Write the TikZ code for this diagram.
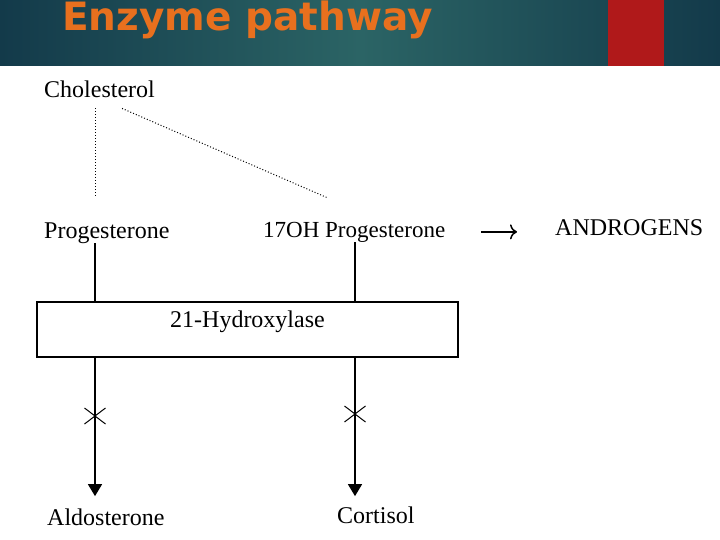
\documentclass[tikz,border=0pt]{standalone}
\usepackage{fontspec}
\setmainfont{Liberation Serif}
\newfontfamily\titlefont{DejaVu Sans}
\usepackage{xcolor}
\usetikzlibrary{arrows.meta}
\usetikzlibrary{shapes.misc}
\definecolor{bandedge}{HTML}{133A4A}
\definecolor{bandmid}{HTML}{2B6465}
\definecolor{bandred}{HTML}{B0191A}
\definecolor{titleorange}{HTML}{E8701E}

\begin{document}
\begin{tikzpicture}[x=1pt,y=-1pt]
        \tikzset{
          lbl/.style={draw=none, fill=none, inner sep=0pt, anchor=base west, font=\fontsize{24}{28}\selectfont},
          enz/.style={draw=black, line width=1.8pt, inner sep=0pt, minimum width=421pt, text height=25pt, text depth=30pt, font=\fontsize{24}{28}\selectfont},
          pre/.style={dotted, line width=1pt},
          flow/.style={line width=1.5pt},
          arr/.style={line width=1.5pt, -{Triangle[width=14pt,length=12pt]}},
          blocked/.style={cross out, draw=black, line width=1pt, minimum width=20pt, minimum height=15pt, inner sep=0pt}
        }
        \useasboundingbox (0,0) rectangle (720,540);

        % — header band —
        \shade[left color=bandedge, right color=bandedge, middle color=bandmid] (0,0) rectangle (720,66);
        \fill[bandred] (608,0) rectangle (664,66);
        \node[lbl, font=\titlefont\bfseries\fontsize{39}{44}\selectfont, text=titleorange] (title) at (62,31) {Enzyme pathway};

        % — steroids —
        \node[lbl] (chol) at (44,98)  {Cholesterol};
        \node[lbl] (prog) at (44,238) {Progesterone};
        \node[lbl, font=\fontsize{23}{27}\selectfont] (ohp) at (263,237) {17OH Progesterone};
        \node[lbl] (andr) at (555,236) {ANDROGENS};
        \node[enz] (box)  at (247.5,329.5) {21-Hydroxylase};
        \node[lbl] (aldo) at (47,525) {Aldosterone};
        \node[lbl] (cort) at (337,523) {Cortisol};

        \coordinate (colA) at (95,0);
        \coordinate (colB) at (355,0);

        % cholesterol to the precursors
        \draw[pre, shorten <=10pt, shorten >=25pt] (chol.south -| colA) -- (prog.north -| colA);
        \draw[pre] ([xshift=-33pt,yshift=-10pt]chol.south east) -- ([xshift=64pt,yshift=24pt]ohp.north west);
        \draw[line width=1.5pt, -{To[length=7pt,width=15pt]}, shorten <=36pt, shorten >=38pt] (ohp.east) -- (ohp.east -| andr.west);

        % through 21-hydroxylase
        \draw[flow] (prog.south -| colA) -- (box.north -| colA);
        \draw[flow] (ohp.south -| colB) -- (box.north -| colB);
        \draw[arr, shorten >=12pt] (box.south -| colA) -- (aldo.north -| colA);
        \draw[arr, shorten >=10pt] (box.south -| colB) -- (cort.north -| colB);
        \node[blocked] (xa) at (95,416) {};
        \node[blocked] (xb) at (355,414) {};

\end{tikzpicture}
\end{document}
